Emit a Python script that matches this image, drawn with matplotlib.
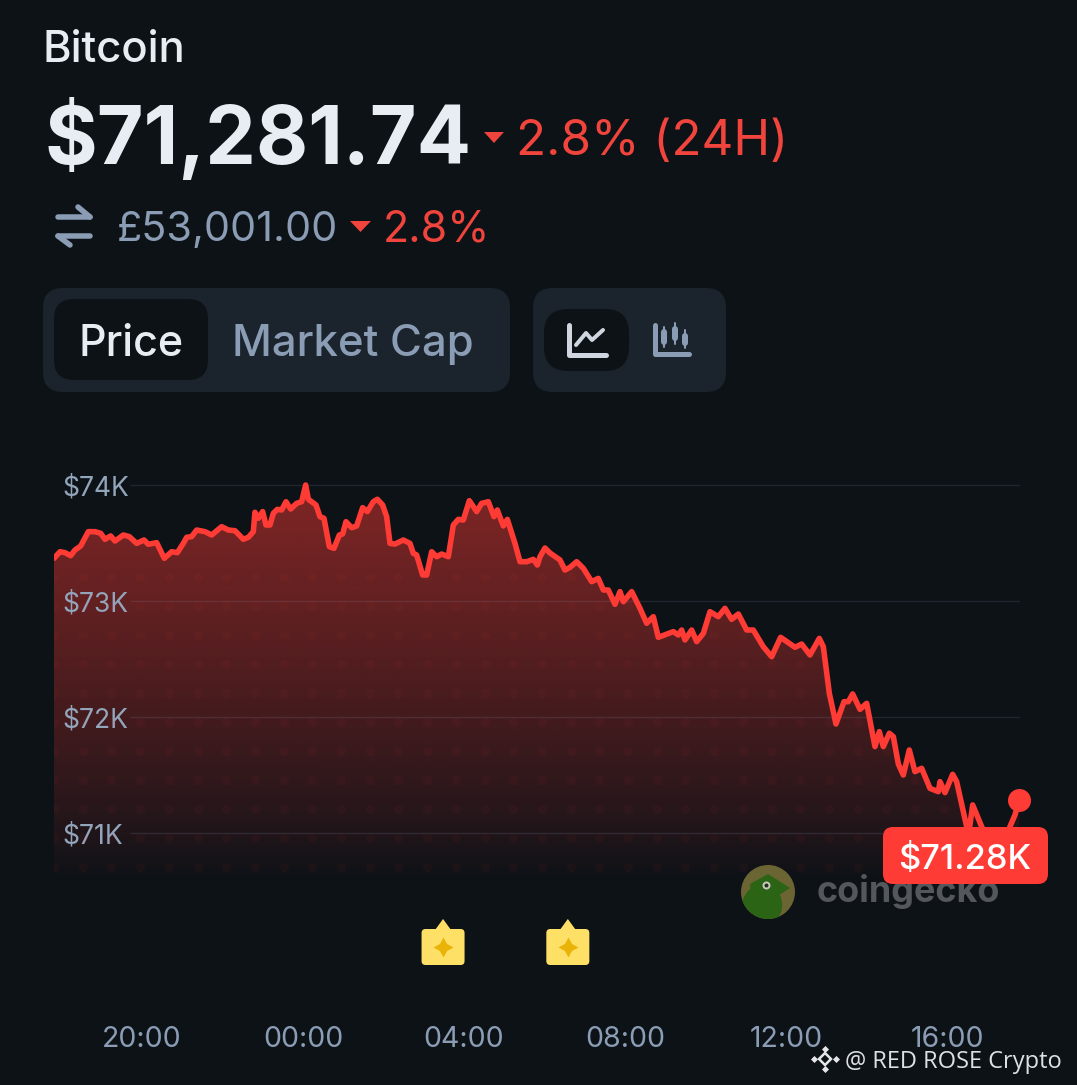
import numpy as np
import matplotlib
matplotlib.use("Agg")
import matplotlib.pyplot as plt
from matplotlib.patches import FancyBboxPatch, Polygon, Circle, Ellipse

plt.rcParams['font.family'] = ['Inter', 'DejaVu Sans']

# hours after 20:00, price in USD
hours = [
    -2.186, -2.037, -1.913, -1.772, -1.665, -1.524, -1.333, -1.168, -1.027, -0.919,
    -0.778, -0.671, -0.464, -0.315, -0.133, 0.050, 0.157, 0.364, 0.555, 0.737,
    0.878, 1.027, 1.110, 1.234, 1.358, 1.565, 1.731, 1.979, 2.145, 2.311,
    2.518, 2.642, 2.766, 2.807, 2.890, 2.998, 3.081, 3.180, 3.263, 3.362,
    3.470, 3.578, 3.694, 3.843, 3.967, 4.066, 4.133, 4.323, 4.422, 4.522,
    4.654, 4.770, 4.903, 4.986, 5.068, 5.209, 5.333, 5.482, 5.598, 5.747,
    5.847, 5.979, 6.079, 6.161, 6.286, 6.493, 6.658, 6.741, 6.824, 6.973,
    7.072, 7.197, 7.321, 7.445, 7.611, 7.735, 7.859, 7.983, 8.133, 8.315,
    8.439, 8.605, 8.745, 8.828, 8.977, 9.077, 9.267, 9.391, 9.557, 9.723,
    9.822, 9.888, 10.012, 10.137, 10.385, 10.509, 10.634, 10.799, 10.965, 11.172,
    11.337, 11.462, 11.586, 11.752, 11.876, 11.959, 12.166, 12.373, 12.538, 12.704,
    12.828, 13.201, 13.325, 13.408, 13.491, 13.656, 13.781, 13.946, 14.112, 14.319,
    14.484, 14.650, 14.816, 15.023, 15.188, 15.437, 15.644, 15.867, 16.224, 16.389,
    16.596, 16.828, 16.928, 17.077, 17.242, 17.441, 17.549, 17.656, 17.839, 18.004,
    18.211, 18.319, 18.418, 18.567, 18.667, 18.791, 18.915, 19.064, 19.205, 19.371,
    19.578, 19.785, 19.826, 19.950, 20.141, 20.240, 20.489, 20.530, 20.638, 20.861,
    21.068, 21.400, 21.565, 21.689, 21.797,
]
prices = [
    73368, 73425, 73417, 73391, 73440, 73474, 73598, 73598, 73584, 73532,
    73561, 73517, 73569, 73555, 73497, 73526, 73489, 73503, 73368, 73425,
    73417, 73497, 73549, 73555, 73612, 73598, 73569, 73641, 73612, 73606,
    73532, 73549, 73598, 73765, 73713, 73771, 73655, 73655, 73756, 73790,
    73785, 73856, 73793, 73842, 73856, 74000, 73877, 73828, 73727, 73713,
    73469, 73454, 73569, 73578, 73684, 73632, 73647, 73805, 73771, 73856,
    73877, 73828, 73727, 73497, 73491, 73526, 73497, 73411, 73397, 73224,
    73224, 73425, 73382, 73405, 73382, 73655, 73704, 73698, 73865, 73771,
    73842, 73856, 73727, 73785, 73647, 73704, 73497, 73339, 73339, 73359,
    73310, 73382, 73457, 73414, 73354, 73267, 73290, 73339, 73282, 73167,
    73195, 73095, 73095, 72971, 73081, 72994, 73081, 72937, 72808, 72865,
    72687, 72736, 72707, 72750, 72664, 72750, 72650, 72721, 72908, 72865,
    72937, 72842, 72888, 72750, 72750, 72606, 72520, 72687, 72601, 72629,
    72535, 72678, 72606, 72204, 71940, 72132, 72132, 72199, 72066, 72118,
    71745, 71874, 71745, 71860, 71831, 71595, 71500, 71716, 71529, 71558,
    71385, 71357, 71443, 71348, 71506, 71443, 71055, 70969, 71242, 71055,
    70883, 70883, 71055, 71156, 71285,
]
y_ticks = [74000, 73000, 72000, 71000]
y_labels = ['$74K', '$73K', '$72K', '$71K']
x_ticks = [0, 4, 8, 12, 16, 20]
x_labels = ['20:00', '00:00', '04:00', '08:00', '12:00', '16:00']
event_hours = [7.48, 10.58]

BG = '#0d1217'
PANEL = '#1b232d'
RED = '#ff3b35'
TXTRED = '#f0443c'
LIGHT = '#e8edf3'
MUTED = '#8a9db5'
W, H = 1077, 1085


def pt(px):
    return px * 0.72


fig = plt.figure(figsize=(W / 100, H / 100), dpi=100, facecolor=BG)

# chart area: px 54..1020 wide, px 440..880 high
ax = fig.add_axes([54 / W, 1 - 880 / H, 966 / W, 440 / H], facecolor='none')
ax.set_xlim(-2.186, 21.814)
ax.set_ylim(70595, 74388)

# everything that is not chart goes on a pixel overlay
ui = fig.add_axes([0, 0, 1, 1], facecolor='none', zorder=3)
ui.set_xlim(0, W)
ui.set_ylim(H, 0)
ui.axis('off')

# gradient fill under the line
verts = list(zip(hours, prices)) + [(hours[-1], 70595), (hours[0], 70595)]
clip = Polygon(verts, closed=True, transform=ax.transData, facecolor='none', edgecolor='none')
ax.add_patch(clip)
grad = np.zeros((256, 2, 4))
grad[..., 0] = 1.0
grad[..., 1] = 0x3b / 255
grad[..., 2] = 0x35 / 255
grad[..., 3] = 0.48 * np.linspace(0, 1, 256)[:, None] ** 0.85
im = ax.imshow(grad, extent=[hours[0], hours[-1], 70595, 74000], origin='lower', aspect='auto', zorder=1)
im.set_clip_path(clip)

# faint dot texture inside the fill
gx, gy = np.meshgrid(np.arange(54, 1020, 28.7), np.arange(577, 880, 29))
dots = ax.scatter(gx.ravel(), gy.ravel(), s=46, color=RED, alpha=0.045, linewidths=0,
                  transform=ui.transData, zorder=2)
dots.set_clip_path(clip)

ax.hlines(y_ticks, -0.3, 21.814, color='#9fb0d0', alpha=0.13, lw=1, zorder=3)
ax.plot(hours, prices, color=RED, lw=4.0, solid_joinstyle='round', solid_capstyle='round', zorder=4)
ax.plot(hours[-1], prices[-1], 'o', color=RED, ms=pt(23), mew=0, zorder=5, clip_on=False)

ax.set_xticks(x_ticks)
ax.set_xticklabels(x_labels, fontsize=pt(28.5), color=MUTED)
ax.set_yticks(y_ticks)
ax.set_yticklabels(y_labels, fontsize=pt(26.5), color='#93a5bb', ha='left')
ax.tick_params(axis='x', length=0, pad=pt(146))
ax.tick_params(axis='y', length=0, pad=-pt(8))
for s in ax.spines.values():
    s.set_visible(False)


def rbox(x0, y0, x1, y1, r, color, z=1):
    ui.add_patch(FancyBboxPatch((x0 + r, y0 + r), x1 - x0 - 2 * r, y1 - y0 - 2 * r,
                                boxstyle='round,pad=%g,rounding_size=%g' % (r, r),
                                fc=color, ec='none', zorder=z))


def txt(x, y, s, size, color, weight='normal', z=5, **kw):
    ui.text(x, y, s, fontsize=pt(size), color=color, fontweight=weight, zorder=z, va='baseline', **kw)


def stroke(xs, ys, color, lw=3.2):
    ui.plot(xs, ys, color=color, lw=pt(lw), solid_capstyle='round', solid_joinstyle='round', zorder=5)


# header
txt(43, 62, 'Bitcoin', 43.7, LIGHT, 'medium')
txt(44, 164, '$71,281.74', 80.5, LIGHT, 'bold')
ui.add_patch(Polygon([(484, 132), (504, 132), (494, 143)], fc=TXTRED, ec='none'))
txt(516, 155, '2.8% (24H)', 49.4, TXTRED)
# swap arrows
stroke([58, 90], [217, 217], MUTED, 5.5)
stroke([78, 90], [207, 217], MUTED, 5.5)
stroke([58, 90], [236, 236], MUTED, 5.5)
stroke([58, 70], [236, 245], MUTED, 5.5)
txt(117, 241, '£53,001.00', 41.4, MUTED)
ui.add_patch(Polygon([(350, 221), (371, 221), (360.5, 232)], fc=TXTRED, ec='none'))
txt(383, 241, '2.8%', 43, TXTRED)

# price / market cap switch
rbox(43, 288, 510, 392, 20, PANEL)
rbox(54, 299, 208, 380, 20, BG, 2)
txt(78, 356, 'Price', 43, LIGHT, 'medium')
txt(232, 356, 'Market Cap', 43.7, MUTED, 'medium')

# chart type switch
rbox(533, 288, 726, 392, 20, PANEL)
rbox(544, 309, 629, 371, 24, BG, 2)
stroke([569, 569, 606], [325, 355, 355], '#cfd6df', 5)
stroke([576, 586, 592, 603], [345, 333, 340, 330], '#cfd6df', 4)
stroke([655, 655, 689], [325, 354, 354], MUTED, 5)
for cx, w0, w1, b0, b1 in [(664, 327, 347, 330, 344), (675, 323, 344, 327, 340), (685, 330, 348, 334, 345)]:
    stroke([cx, cx], [w0, w1], MUTED, 2)
    stroke([cx, cx], [b0 + 2, b1 - 2], MUTED, 6)

# coingecko watermark
badge = Circle((768, 892), 27, fc='#6b6433', ec='none', zorder=1)
ui.add_patch(badge)
body = Ellipse((762, 906), 40, 44, angle=15, fc='#2a6414', ec='none', zorder=1)
ui.add_patch(body)
body.set_clip_path(badge)
head = Polygon([(750, 884), (768, 874), (790, 888), (776, 897), (752, 905)], fc='#2a6414', ec='none', zorder=1)
ui.add_patch(head)
head.set_clip_path(badge)
ui.plot([766], [885], 'o', color='#c9c9c0', ms=pt(8), mew=0, zorder=1)
ui.plot([766], [885], 'o', color='#20301a', ms=pt(4), mew=0, zorder=1)
txt(817, 902, 'coingecko', 36, '#54575b', 'bold', z=1)

# last price tag
rbox(883, 827, 1048, 884, 10, RED, 4)
txt(965, 869, '$71.28K', 34.5, '#ffffff', 'medium', ha='center')


def hour_px(h):
    return ui.transData.inverted().transform(ax.transData.transform((h, 74000)))[0]


# event flags under the chart
for h in event_hours:
    cx = hour_px(h)
    rbox(cx - 21.5, 929, cx + 21.5, 965, 4, '#ffe066', 2)
    ui.add_patch(Polygon([(cx - 8, 930), (cx, 919), (cx + 8, 930)], fc='#ffe066', ec='none', zorder=2))
    ui.plot([cx], [947], marker=(4, 1, 0), color='#eab308', ms=pt(20), mew=0, zorder=3)

# binance style watermark
for dx, dy in [(0, -10), (0, 10), (-11, 0), (11, 0)]:
    ui.plot([825 + dx], [1059 + dy], 'D', color='#e4e6e8', ms=pt(5), mew=0, zorder=6)
ui.plot([825], [1059], 'D', mfc=BG, mec='#e4e6e8', ms=pt(9), mew=pt(2.5), zorder=6)
ui.text(845, 1068, '@ RED ROSE Crypto', fontsize=pt(23.6), color='#dde1e4', family=['Open Sans', 'DejaVu Sans'],
        va='baseline', zorder=6)

fig.savefig('out.png', dpi=100, facecolor=BG)
